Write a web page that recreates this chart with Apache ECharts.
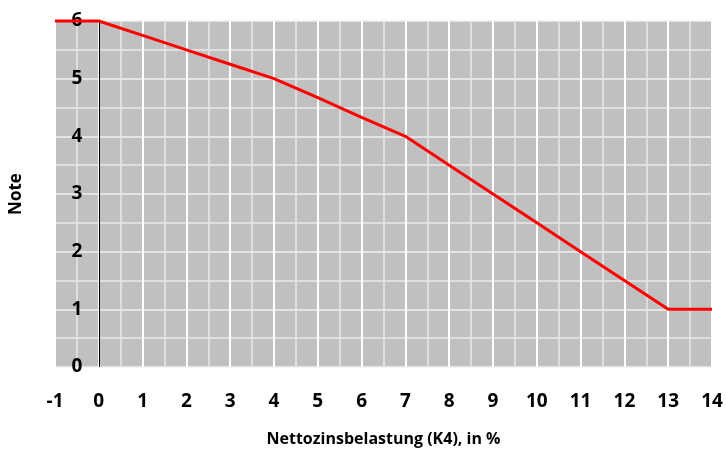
<!DOCTYPE html>
<html>
<head>
<meta charset="utf-8">
<script src="https://cdn.jsdelivr.net/npm/echarts@6/dist/echarts.min.js"></script>
<style>
html,body{margin:0;padding:0;background:#fff;}
#chart{width:726px;height:452px;}
</style>
</head>
<body>
<div id="chart"></div>
<script>
const xValues = [-1, 0, 1, 2, 3, 4, 5, 6, 7, 8, 9, 10, 11, 12, 13, 14];
const noteValues = [6, 6, 5.75, 5.5, 5.25, 5, 4.67, 4.33, 4, 3.5, 3, 2.5, 2, 1.5, 1, 1];
const xAxisTitle = 'Nettozinsbelastung (K4), in %';
const yAxisTitle = 'Note';

const FONT = '"Open Sans", sans-serif';
const chart = echarts.init(document.getElementById('chart'));
chart.setOption({
  animation: false,
  backgroundColor: '#ffffff',
  grid: {
    left: 54, right: 14, top: 21, bottom: 81,
    show: true, backgroundColor: '#c0c0c0', borderWidth: 0
  },
  xAxis: {
    type: 'value', min: -1, max: 14, interval: 1,
    name: xAxisTitle, nameLocation: 'middle', nameGap: 64,
    nameTextStyle: { fontFamily: FONT, fontWeight: 'bold', fontSize: 16, color: '#000' },
    axisLine: { show: false }, axisTick: { show: false },
    axisLabel: { margin: 25, fontFamily: FONT, fontWeight: 'bold', fontSize: 19, color: '#000' },
    splitLine: { show: true, lineStyle: { color: '#ffffff', width: 2 } },
    minorTick: { show: false, splitNumber: 2 },
    minorSplitLine: { show: true, lineStyle: { color: '#e8e8e8', width: 1.5 } }
  },
  yAxis: {
    type: 'value', min: 0, max: 6, interval: 1,
    name: yAxisTitle, nameLocation: 'middle', nameGap: 30, nameRotate: 90,
    nameTextStyle: { fontFamily: FONT, fontWeight: 'bold', fontSize: 17, color: '#000' },
    axisLine: { show: false }, axisTick: { show: false },
    axisLabel: { margin: -22, align: 'center', fontFamily: FONT, fontWeight: 'bold', fontSize: 19, color: '#000' },
    splitLine: { show: true, lineStyle: { color: '#f0f0f0', width: 1.5 } },
    minorTick: { show: false, splitNumber: 2 },
    minorSplitLine: { show: true, lineStyle: { color: '#e8e8e8', width: 1.5 } }
  },
  series: [{
    type: 'line',
    data: xValues.map((x, i) => [x, noteValues[i]]),
    symbol: 'none',
    clip: false,
    z: 5,
    lineStyle: { color: '#ff0000', width: 3 },
    markLine: {
      silent: true, symbol: 'none', animation: false,
      label: { show: false },
      lineStyle: { color: '#000000', width: 1, type: 'solid' },
      data: [{ xAxis: 0 }]
    }
  }]
});
</script>
</body>
</html>
